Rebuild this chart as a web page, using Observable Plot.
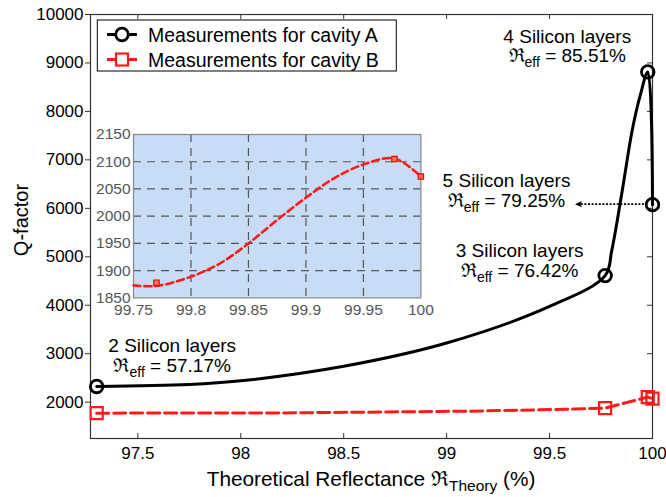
<!DOCTYPE html>
<html>
<head>
<meta charset="utf-8">
<script src="https://cdn.jsdelivr.net/npm/d3@7"></script>
<script src="https://cdn.jsdelivr.net/npm/@observablehq/plot@0.6"></script>
<style>
  html, body { margin: 0; padding: 0; background: #fff; }
  #wrap { position: relative; width: 666px; height: 497px; overflow: hidden; }
  #wrap svg { position: absolute; overflow: visible; }
</style>
</head>
<body>
<div id="wrap"></div>
<script>
// ---------- data ----------
const reflectance = [97.3, 99.77, 99.977, 100];           // measured points (x)
const qCavityA    = [2324, 4612, 8815, 6076];              // cavity A Q-factors
const qCavityB    = [1773, 1878, 2105, 2073];              // cavity B Q-factors
const layerNames  = ["2 Silicon layers", "3 Silicon layers", "4 Silicon layers", "5 Silicon layers"];
const reffValues  = ["57.17%", "76.42%", "85.51%", "79.25%"];

// traced curve of cavity A (main panel)
const traceAx = [97.3, 97.75, 98.0, 98.5, 99.0, 99.5, 99.77, 99.802, 99.853, 99.901, 99.94, 99.977, 100];
const traceAy = [2324, 2365, 2440, 2740, 3220, 3975, 4612, 5128, 6365, 7602, 8324, 8815, 6076];
// traced dashed line of cavity B (main panel)
const traceBx = [97.3, 98.2, 98.63, 99.11, 99.6, 99.77, 99.977, 100];
const traceBy = [1773, 1778, 1794, 1814, 1855, 1878, 2105, 2073];
// traced curve of cavity B (inset)
const insetBx = [99.75, 99.77, 99.80, 99.825, 99.85, 99.875, 99.90, 99.924, 99.95, 99.977, 100];
const insetBy = [1873, 1872, 1889, 1913, 1950, 1993, 2034, 2069, 2095, 2106, 2073];

const xTicks = [97.5, 98, 98.5, 99, 99.5, 100];
const yTicks = [2000, 3000, 4000, 5000, 6000, 7000, 8000, 9000, 10000];
const insetXTicks = [99.75, 99.8, 99.85, 99.9, 99.95, 100];
const insetYTicks = [1850, 1900, 1950, 2000, 2050, 2100, 2150];

// ---------- tables ----------
const pointsA = reflectance.map((x, i) => ({x, y: qCavityA[i]}));
const pointsB = reflectance.map((x, i) => ({x, y: qCavityB[i]}));
const lineA = traceAx.map((x, i) => ({x, y: traceAy[i]}));
const lineB = traceBx.map((x, i) => ({x, y: traceBy[i]}));
const lineInset = insetBx.map((x, i) => ({x, y: insetBy[i]}));
const pointsInset = pointsB.filter(d => d.x >= 99.75);

const FONT = "'Liberation Sans', Arial, Helvetica, sans-serif";
const W = 666, H = 497;
const mL = 90, mR = 14, mT = 14, mB = 59;
const fw = W - mL - mR, fh = H - mT - mB;
const RED = "#ff1a1a";

const main = Plot.plot({
  width: W, height: H,
  marginLeft: mL, marginRight: mR, marginTop: mT, marginBottom: mB,
  style: {fontFamily: FONT, fontSize: "17px", color: "#000", background: "#fff", overflow: "visible"},
  x: {domain: [97.27, 100], label: null},
  y: {domain: [1250, 10000], label: null},
  marks: [
    Plot.ruleX(xTicks, {x: d => d, insetTop: fh - 5, stroke: "#333", strokeWidth: 1}),
    Plot.ruleX(xTicks, {x: d => d, insetBottom: fh - 5, stroke: "#333", strokeWidth: 1}),
    Plot.ruleY(yTicks, {y: d => d, insetLeft: fw - 5, stroke: "#333", strokeWidth: 1}),
    Plot.axisX(xTicks, {tickSize: 0, tickPadding: 8, tickFormat: d => String(d), fill: "#000", fontSize: 17, label: null}),
    Plot.axisY(yTicks, {tickSize: 5, tickPadding: 2, tickFormat: d => String(d), fill: "#000", stroke: "#333", fontSize: 17, label: null}),
    Plot.frame({stroke: "#333", strokeWidth: 1.2}),
    Plot.line(lineB, {x: "x", y: "y", stroke: RED, strokeWidth: 3, strokeDasharray: "12,5"}),
    Plot.line(lineA, {x: "x", y: "y", curve: "catmull-rom", stroke: "#000", strokeWidth: 3}),
    Plot.dot(pointsB, {x: "x", y: "y", symbol: "square", r: 6.8, stroke: RED, strokeWidth: 2.2, fill: "none"}),
    Plot.dot(pointsA, {x: "x", y: "y", symbol: "circle", r: 6.3, stroke: "#000", strokeWidth: 2.8, fill: "none"})
  ]
});

const wrap = document.getElementById("wrap");
main.style.left = "0px"; main.style.top = "0px";
wrap.appendChild(main);

const xs = main.scale("x"), ys = main.scale("y");
const svg = d3.select(main);

// ---------- annotations ----------
const labelOffsets = [
  {dx: 76, dy1: -34.3, dy2: -14.3},
  {dx: -85, dy1: -18, dy2: 1.7},
  {dx: -80, dy1: -28, dy2: -9},
  {dx: -145.5, dy1: -17.2, dy2: 2.8}
];
pointsA.forEach((p, i) => {
  const px = xs.apply(p.x), py = ys.apply(p.y), o = labelOffsets[i];
  const g = svg.append("g").attr("font-family", FONT).attr("font-size", 19)
    .attr("text-anchor", "middle").attr("fill", "#000");
  g.append("text").attr("x", px + o.dx).attr("y", py + o.dy1).text(layerNames[i]);
  const t = g.append("text").attr("x", px + o.dx).attr("y", py + o.dy2);
  t.append("tspan").text("\u211C");
  t.append("tspan").attr("font-size", 14).attr("dy", 5).text("eff");
  t.append("tspan").attr("dy", -5).text(" = " + reffValues[i]);
});

// dotted arrow towards the 5-layer point
{
  const px = xs.apply(pointsA[3].x), py = ys.apply(pointsA[3].y);
  const x1 = px - 8, x2 = px - 77;
  svg.append("line").attr("x1", x1).attr("y1", py).attr("x2", x2 + 5).attr("y2", py)
    .attr("stroke", "#000").attr("stroke-width", 1.6).attr("stroke-dasharray", "2,1.6");
  svg.append("path").attr("d", `M${x2},${py} L${x2 + 7},${py - 3.2} L${x2 + 5.5},${py} L${x2 + 7},${py + 3.2} Z`)
    .attr("fill", "#000");
}

// ---------- axis titles ----------
{
  const cx = mL + fw / 2;
  const t = svg.append("text").attr("x", cx).attr("y", 486).attr("text-anchor", "middle")
    .attr("font-family", FONT).attr("font-size", 20.8).attr("fill", "#000");
  t.append("tspan").text("Theoretical Reflectance \u211C");
  t.append("tspan").attr("font-size", 15.5).attr("dy", 5).text("Theory");
  t.append("tspan").attr("dy", -5).text(" (%)");

  svg.append("text").attr("transform", `translate(28,${mT + fh / 2 - 6}) rotate(-90)`)
    .attr("text-anchor", "middle").attr("font-family", FONT).attr("font-size", 20)
    .attr("fill", "#000").text("Q-factor");
}

// ---------- legend ----------
{
  const g = svg.append("g").attr("text-anchor", "start");
  g.append("rect").attr("x", 97.3).attr("y", 20).attr("width", 299).attr("height", 51)
    .attr("fill", "#fff").attr("stroke", "#000").attr("stroke-width", 1);
  const rows = [
    {y: 34.5, name: "Measurements for cavity A", color: "#000", sym: "circle"},
    {y: 59.5, name: "Measurements for cavity B", color: RED, sym: "square"}
  ];
  rows.forEach(r => {
    g.append("line").attr("x1", 107).attr("x2", 137).attr("y1", r.y).attr("y2", r.y)
      .attr("stroke", r.color).attr("stroke-width", 3);
    if (r.sym === "circle") {
      g.append("circle").attr("cx", 122).attr("cy", r.y).attr("r", 6.3)
        .attr("fill", "#fff").attr("stroke", r.color).attr("stroke-width", 2.8);
    } else {
      g.append("rect").attr("x", 122 - 6).attr("y", r.y - 6).attr("width", 12).attr("height", 12)
        .attr("fill", "#fff").attr("stroke", r.color).attr("stroke-width", 2.2);
    }
    g.append("text").attr("x", 148).attr("y", r.y + 7).attr("text-anchor", "start")
      .attr("font-family", FONT).attr("font-size", 19.5).attr("fill", "#000").text(r.name);
  });
}

// ---------- inset ----------
const iL = 48, iR = 14.6, iT = 6, iB = 26.6;
const inset = Plot.plot({
  width: 350, height: 196,
  marginLeft: iL, marginRight: iR, marginTop: iT, marginBottom: iB,
  style: {fontFamily: FONT, fontSize: "15.5px", color: "#555", background: "transparent", overflow: "visible"},
  x: {domain: [99.75, 100], label: null},
  y: {domain: [1850, 2150], label: null},
  marks: [
    Plot.frame({fill: "#c9dcf5", stroke: "none"}),
    Plot.gridX(insetXTicks.slice(1, -1), {stroke: "#555", strokeOpacity: 1, strokeWidth: 1.2, strokeDasharray: "8,6"}),
    Plot.gridY(insetYTicks.slice(1, -1), {stroke: "#555", strokeOpacity: 1, strokeWidth: 1.2, strokeDasharray: "8,6"}),
    Plot.frame({stroke: "#888", strokeWidth: 1.2}),
    Plot.axisX(insetXTicks, {tickSize: 0, tickPadding: 6, tickFormat: d => String(d), fill: "#555", fontSize: 15.5, label: null}),
    Plot.axisY(insetYTicks, {tickSize: 0, tickPadding: 3, tickFormat: d => String(d), fill: "#555", fontSize: 15.5, label: null}),
    Plot.line(lineInset, {x: "x", y: "y", curve: "catmull-rom", stroke: RED, strokeWidth: 2.6, strokeDasharray: "7,4"}),
    Plot.dot(pointsInset, {x: "x", y: "y", symbol: "square", r: 3, stroke: "#e00", strokeWidth: 1.2, fill: "#ff7a5a"})
  ]
});
inset.style.left = (133.3 - iL) + "px";
inset.style.top = (134.3 - iT) + "px";
wrap.appendChild(inset);
</script>
</body>
</html>
